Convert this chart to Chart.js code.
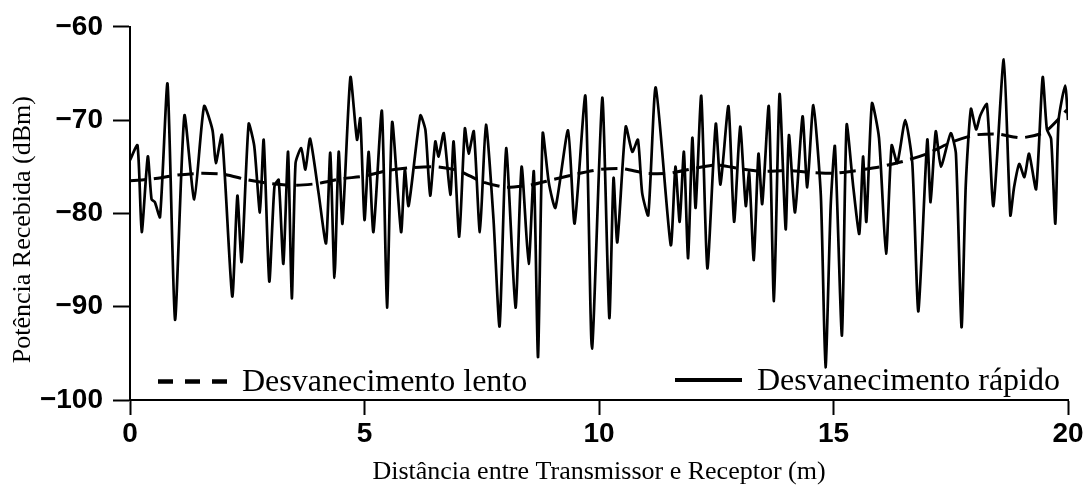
<!DOCTYPE html>
<html>
<head>
<meta charset="utf-8">
<script src="https://cdn.jsdelivr.net/npm/chart.js@4"></script>
<style>
  html, body { margin: 0; padding: 0; background: #fff; }
  #wrap { width: 1091px; height: 490px; position: relative; }
</style>
</head>
<body>
<div id="wrap"><canvas id="chart"></canvas></div>
<script>
// fast fading (solid) - distance (m) and received power (dBm)
const fastDist = [
  0.00, 0.16, 0.25, 0.38, 0.46, 0.53, 0.64, 0.80, 0.96, 1.16, 1.37, 1.58, 1.76, 1.83, 1.96,
  2.18, 2.29, 2.38, 2.53, 2.65, 2.77, 2.85, 2.97, 3.08, 3.17, 3.27, 3.37, 3.45, 3.53, 3.65,
  3.74, 3.84, 4.02, 4.18, 4.27, 4.36, 4.45, 4.53, 4.70, 4.84, 4.91, 5.00, 5.09, 5.19, 5.37,
  5.48, 5.59, 5.78, 5.86, 5.94, 6.19, 6.30, 6.40, 6.51, 6.58, 6.69, 6.83, 6.90, 7.02, 7.14,
  7.22, 7.33, 7.46, 7.59, 7.75, 7.88, 8.02, 8.22, 8.35, 8.50, 8.61, 8.70, 8.80, 8.93, 9.07,
  9.34, 9.48, 9.71, 9.85, 10.07, 10.22, 10.31, 10.39, 10.57, 10.71, 10.83, 10.92, 11.05, 11.21, 11.53,
  11.63, 11.72, 11.81, 11.90, 11.99, 12.06, 12.18, 12.31, 12.49, 12.59, 12.76, 12.88, 13.01, 13.13, 13.20,
  13.30, 13.40, 13.48, 13.62, 13.73, 13.85, 13.98, 14.05, 14.18, 14.34, 14.44, 14.57, 14.73, 14.83, 14.94,
  15.03, 15.18, 15.28, 15.42, 15.55, 15.63, 15.70, 15.82, 15.97, 16.12, 16.24, 16.36, 16.53, 16.68, 16.81,
  17.00, 17.07, 17.18, 17.29, 17.50, 17.61, 17.73, 17.82, 17.93, 18.04, 18.13, 18.27, 18.41, 18.63, 18.77,
  18.85, 18.96, 19.07, 19.17, 19.32, 19.46, 19.55, 19.64, 19.73, 19.80, 19.94, 20.00
];
const fastPower = [
  -74.3, -72.7, -82.0, -73.9, -78.5, -78.8, -80.4, -66.1, -91.4, -69.5, -78.5, -68.5, -71.1, -74.6, -71.6,
  -88.9, -78.1, -85.2, -70.4, -72.8, -79.9, -72.1, -87.3, -77.1, -76.4, -85.4, -73.4, -89.1, -74.6, -73.0,
  -75.3, -72.0, -77.8, -83.2, -73.5, -86.9, -73.4, -81.1, -65.4, -72.1, -69.8, -80.7, -73.4, -82.0, -69.0,
  -90.1, -70.2, -82.0, -75.3, -79.2, -69.5, -71.1, -78.1, -72.3, -73.9, -71.4, -78.0, -72.3, -82.5, -70.9,
  -73.6, -71.2, -82.0, -70.5, -80.6, -92.1, -73.0, -90.1, -75.0, -85.4, -75.5, -95.4, -71.4, -76.7, -79.4,
  -71.1, -81.1, -67.4, -94.5, -67.6, -91.2, -76.2, -83.1, -70.7, -73.4, -72.1, -77.8, -80.2, -66.5, -83.4,
  -75.0, -80.9, -73.4, -84.8, -71.9, -79.4, -67.4, -85.9, -70.4, -76.9, -68.5, -80.9, -70.7, -79.2, -75.6,
  -85.0, -73.6, -79.0, -68.5, -89.4, -67.2, -81.7, -71.6, -79.9, -69.6, -77.2, -68.4, -78.1, -96.5, -79.2,
  -72.8, -93.1, -70.5, -77.1, -82.2, -73.9, -80.9, -68.2, -71.9, -84.3, -72.7, -74.6, -70.0, -74.6, -90.5,
  -72.1, -78.8, -71.2, -75.0, -71.4, -73.6, -92.2, -77.0, -68.8, -71.0, -69.5, -68.3, -79.2, -63.5, -80.2,
  -77.2, -74.7, -76.1, -73.6, -77.4, -65.4, -71.0, -72.0, -81.1, -70.0, -66.3, -70.0
];

// slow fading (dashed)
const slowDist = [0, 0.5, 1, 1.5, 2, 2.5, 3, 3.5, 4, 4.5, 5, 5.5, 6, 6.5, 7, 7.5, 8, 8.5, 9, 9.5,
  10, 10.5, 11, 11.5, 12, 12.5, 13, 13.5, 14, 14.5, 15, 15.5, 16, 16.5, 17, 17.5, 18, 18.5, 19, 19.5, 20];
const slowPower = [-76.5, -76.3, -75.9, -75.7, -75.8, -76.4, -76.8, -77.0, -76.8, -76.3, -76.0, -75.4, -75.1, -75.0, -75.4, -76.6, -77.2, -77.0, -76.4, -75.8,
  -75.3, -75.2, -75.7, -75.7, -75.2, -74.8, -75.2, -75.5, -75.4, -75.6, -75.7, -75.4, -75.0, -74.4, -73.6, -72.4, -71.6, -71.5, -71.9, -71.3, -68.8];

const xTicks = [0, 5, 10, 15, 20];
const yTicks = [-100, -90, -80, -70, -60];

const seriesNames = ['Desvanecimento lento', 'Desvanecimento rápido'];
const xTitle = 'Distância entre Transmissor e Receptor (m)';
const yTitle = 'Potência Recebida (dBm)';

const toPoints = (xs, ys) => xs.map((x, i) => ({ x: x, y: ys[i] }));
const minus = v => String(v).replace('-', '\u2212');

// legend drawn inside the plot, along the bottom
const insideLegend = {
  id: 'insideLegend',
  afterDraw(chart) {
    const ctx = chart.ctx;
    const area = chart.chartArea;
    const ds = chart.data.datasets;
    ctx.save();
    ctx.font = "32px 'Liberation Serif', 'Times New Roman', serif";
    ctx.fillStyle = '#000';
    ctx.textBaseline = 'alphabetic';
    ctx.strokeStyle = '#000';

    // slow
    ctx.lineWidth = 4.5;
    ctx.setLineDash([15, 12]);
    ctx.beginPath();
    ctx.moveTo(area.left + 28, area.bottom - 18.5);
    ctx.lineTo(area.left + 97, area.bottom - 18.5);
    ctx.stroke();
    ctx.fillText(ds[0].label, area.left + 112, area.bottom - 9);

    // fast
    ctx.setLineDash([]);
    ctx.lineWidth = 4;
    ctx.beginPath();
    ctx.moveTo(area.right - 393, area.bottom - 20);
    ctx.lineTo(area.right - 326, area.bottom - 20);
    ctx.stroke();
    ctx.fillText(ds[1].label, area.right - 311, area.bottom - 10);
    ctx.restore();
  }
};

const tickFont = { family: "'Liberation Sans', Arial, sans-serif", size: 28, weight: 'bold' };
const titleFont = { family: "'Liberation Serif', 'Times New Roman', serif", size: 26 };

new Chart(document.getElementById('chart'), {
  type: 'line',
  data: {
    datasets: [
      {
        label: seriesNames[0],
        data: toPoints(slowDist, slowPower),
        borderColor: '#000',
        borderWidth: 3,
        borderDash: [16, 8],
        pointRadius: 0,
        tension: 0.2,
        order: 0
      },
      {
        label: seriesNames[1],
        data: toPoints(fastDist, fastPower),
        borderColor: '#000',
        borderWidth: 2.7,
        pointRadius: 0,
        tension: 0.2,
        order: 1
      }
    ]
  },
  options: {
    responsive: true,
    maintainAspectRatio: false,
    animation: false,
    layout: { padding: { top: 22, right: 23, left: 0, bottom: 0 } },
    plugins: {
      legend: { display: false },
      tooltip: { enabled: false }
    },
    scales: {
      x: {
        type: 'linear',
        min: 0,
        max: 20,
        afterFit: s => { s.height = 90; },
        afterBuildTicks: s => { s.ticks = xTicks.map(v => ({ value: v })); },
        ticks: { color: '#000', font: tickFont, padding: 2, maxRotation: 0, callback: minus },
        grid: { drawOnChartArea: false, drawTicks: true, tickLength: 15, tickWidth: 2, tickColor: '#000' },
        border: { display: true, color: '#000', width: 2 },
        title: { display: true, text: xTitle, color: '#000', font: titleFont, padding: { top: 0, bottom: 2 } }
      },
      y: {
        type: 'linear',
        min: -100,
        max: -60,
        afterFit: s => { s.width = 130; },
        afterBuildTicks: s => { s.ticks = yTicks.map(v => ({ value: v })); },
        ticks: { color: '#000', font: tickFont, padding: 10, callback: minus },
        grid: { drawOnChartArea: false, drawTicks: true, tickLength: 17, tickWidth: 2, tickColor: '#000' },
        border: { display: true, color: '#000', width: 2 },
        title: { display: true, text: yTitle + '\u00A0\u00A0\u00A0\u00A0\u00A0', color: '#000', font: titleFont, padding: { top: 8, bottom: 0 } }
      }
    }
  },
  plugins: [insideLegend]
});
</script>
</body>
</html>
